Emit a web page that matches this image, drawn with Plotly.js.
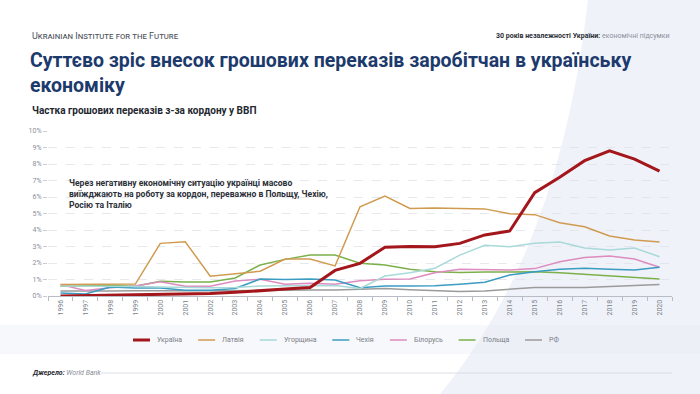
<!DOCTYPE html>
<html>
<head>
<meta charset="utf-8">
<script src="https://cdn.plot.ly/plotly-3.0.1.min.js"></script>
<style>
html,body{margin:0;padding:0;background:#fff;}
#chart{width:700px;height:394px;}
</style>
</head>
<body>
<div id="chart"></div>
<script>
// ---- data ----
const years = ["1996","1997","1998","1999","2000","2001","2002","2003","2004","2005","2006","2007","2008","2009","2010","2011","2012","2013","2014","2015","2016","2017","2018","2019","2020"];
const ukraine = [0.0,0.02,0.04,0.06,0.08,0.12,0.15,0.22,0.3,0.42,0.52,1.55,1.98,2.96,3.0,2.99,3.19,3.7,3.94,6.26,7.2,8.2,8.8,8.3,7.57];
const latvia  = [0.7,0.7,0.7,0.72,3.19,3.29,1.2,1.33,1.5,2.24,2.24,1.82,5.41,6.06,5.31,5.33,5.31,5.28,4.99,4.93,4.44,4.2,3.64,3.39,3.27];
const hungary = [0.6,0.6,0.6,0.58,0.55,0.52,0.5,0.52,0.6,0.62,0.62,0.63,0.46,1.21,1.41,1.68,2.48,3.07,2.99,3.19,3.27,2.91,2.79,2.91,2.38];
const czechia = [0.18,0.12,0.55,0.49,0.49,0.35,0.35,0.45,1.03,1.0,1.03,0.97,0.5,0.6,0.6,0.62,0.71,0.83,1.27,1.47,1.62,1.68,1.62,1.58,1.74];
const belarus = [0.69,0.34,0.5,0.6,0.86,0.59,0.59,0.91,1.01,0.71,0.77,0.71,0.93,1.01,1.03,1.41,1.62,1.62,1.58,1.66,2.08,2.34,2.42,2.24,1.74];
const poland  = [0.59,0.6,0.63,0.59,0.89,0.85,0.85,1.09,1.88,2.22,2.48,2.48,1.98,1.88,1.62,1.47,1.43,1.45,1.45,1.47,1.41,1.31,1.21,1.11,1.03];
const russia  = [0.3,0.28,0.3,0.32,0.34,0.32,0.32,0.34,0.35,0.36,0.36,0.36,0.42,0.46,0.38,0.32,0.28,0.3,0.4,0.52,0.52,0.52,0.57,0.65,0.69];
const seriesNames = ["Україна","Латвія","Угорщина","Чехія","Білорусь","Польща","РФ"];
const seriesValues = [ukraine, latvia, hungary, czechia, belarus, poland, russia];

// ---- styles ----
const colors = ["#a3171c","#d09b50","#a9d9d9","#3a9cc0","#dc8cbf","#7bb04a","#9b9b9b"];
const widths = [3,1.5,1.5,1.5,1.5,1.5,1.5];
const FONT = "Roboto, 'Noto Sans', sans-serif";

const W = 700, H = 394;
const L = 48, R = 28, T = 131, B = 98;
const PW = W - L - R, PH = H - T - B;
const px = x => (x - L) / PW;
const py = y => (H - B - y) / PH;

// traces: draw Ukraine last (on top)
const traces = [];
for (let i = seriesNames.length - 1; i >= 0; i--) {
  traces.push({
    type: "scatter", mode: "lines", name: seriesNames[i],
    x: years, y: seriesValues[i],
    line: {color: colors[i], width: widths[i]},
    showlegend: false, hoverinfo: "skip"
  });
}

const shapes = [];
const annotations = [];

// background decorations
shapes.push({type:"path", xref:"paper", yref:"paper", layer:"below",
  path:`M ${px(588)} ${py(0)} Q ${px(560)} ${py(250)} ${px(440)} ${py(394)} L ${px(700)} ${py(394)} L ${px(700)} ${py(0)} Z`,
  fillcolor:"#f0f2f9", line:{width:0}});
shapes.push({type:"rect", xref:"paper", yref:"paper", layer:"below",
  x0:px(0), x1:px(700), y0:py(354), y1:py(325), fillcolor:"rgba(232,235,243,0.35)", line:{width:0}});

// header
annotations.push({xref:"paper", yref:"paper", x:px(30), y:py(36), xanchor:"left", yanchor:"middle", showarrow:false,
  text:"Ukrainian Institute for the Future", font:{family:FONT, size:9, color:"#4a4f5a", variant:"small-caps"}});
annotations.push({xref:"paper", yref:"paper", x:px(672), y:py(36), xanchor:"right", yanchor:"middle", showarrow:false,
  text:"<b>30 років незалежності України:</b> <span style='color:#8a8f99'>економічні підсумки</span>",
  font:{family:FONT, size:7, color:"#2a2e36"}});
// subtitle
annotations.push({xref:"paper", yref:"paper", x:px(30), y:py(110), xanchor:"left", yanchor:"middle", showarrow:false,
  text:"<b>Частка грошових переказів з-за кордону у ВВП</b>", font:{family:FONT, size:10, color:"#23272f"}});
// note
annotations.push({xref:"paper", yref:"paper", x:px(67), y:py(176), xanchor:"left", yanchor:"top", align:"left", showarrow:false,
  text:"<b>Через негативну економічну ситуацію українці масово<br>виїжджають на роботу за кордон, переважно в Польщу, Чехію,<br>Росію та Італію</b>",
  font:{family:FONT, size:8.6, color:"#2d3038"}});
// source
annotations.push({xref:"paper", yref:"paper", x:px(30), y:py(373), xanchor:"left", yanchor:"middle", showarrow:false,
  text:"<b><i>Джерело:</i></b> <i><span style='color:#8a8f99'>World Bank</span></i>", font:{family:FONT, size:7, color:"#23272f"}});
shapes.push({type:"line", xref:"paper", yref:"paper", x0:px(101), x1:px(672), y0:py(373), y1:py(373), line:{color:"#d3d6de", width:0.8}});

// custom legend
const cv = document.createElement("canvas").getContext("2d");
const legFont = 7;
cv.font = legFont + "px Roboto";
let lx = 133;
const ly = 340;
for (let i = 0; i < seriesNames.length; i++) {
  shapes.push({type:"line", xref:"paper", yref:"paper", x0:px(lx), x1:px(lx+17), y0:py(ly), y1:py(ly),
    line:{color:colors[i], width: i === 0 ? 3 : 1.5}});
  annotations.push({xref:"paper", yref:"paper", x:px(lx+22), y:py(ly), xanchor:"left", yanchor:"middle", showarrow:false,
    text: seriesNames[i], font:{family:FONT, size:legFont, color:"#7a7f88"}});
  lx = lx + 22 + cv.measureText(seriesNames[i]).width + 18;
}

const layout = {
  width: W, height: H,
  margin: {l:L, r:R, t:T, b:B, pad:0},
  paper_bgcolor: "rgba(255,255,255,0)",
  plot_bgcolor: "rgba(0,0,0,0)",
  showlegend: false,
  font: {family: FONT},
  title: {
    text: "<b>Суттєво зріс внесок грошових переказів заробітчан в українську<br>економіку</b>",
    x: 30/W, xanchor: "left", xref: "container",
    y: 1 - 66.5/H, yanchor: "middle", yref: "container",
    font: {family: FONT, size: 19.5, color: "#1c3a6c"}
  },
  xaxis: {
    type: "category", range: [-0.5, 24.5],
    tickson: "boundaries", ticks: "outside", ticklen: 4, tickcolor: "#b9bcc4", tickwidth: 1,
    showline: true, linecolor: "#b9bcc4", linewidth: 1,
    showgrid: false, zeroline: false,
    tickangle: -90, tickfont: {family: FONT, size: 7, color: "#7a7f88"}
  },
  yaxis: {
    range: [0, 10], dtick: 1, tick0: 0, ticksuffix: "%",
    ticks: "outside", ticklen: 4, tickcolor: "#c9ccd3",
    showgrid: true, gridcolor: "#dfe2e8", griddash: "dash", gridwidth: 0.8,
    zeroline: false, showline: false,
    tickfont: {family: FONT, size: 7, color: "#8a8f99"}
  },
  shapes: shapes,
  annotations: annotations
};

Plotly.newPlot("chart", traces, layout, {staticPlot: true, displayModeBar: false});
</script>
</body>
</html>
